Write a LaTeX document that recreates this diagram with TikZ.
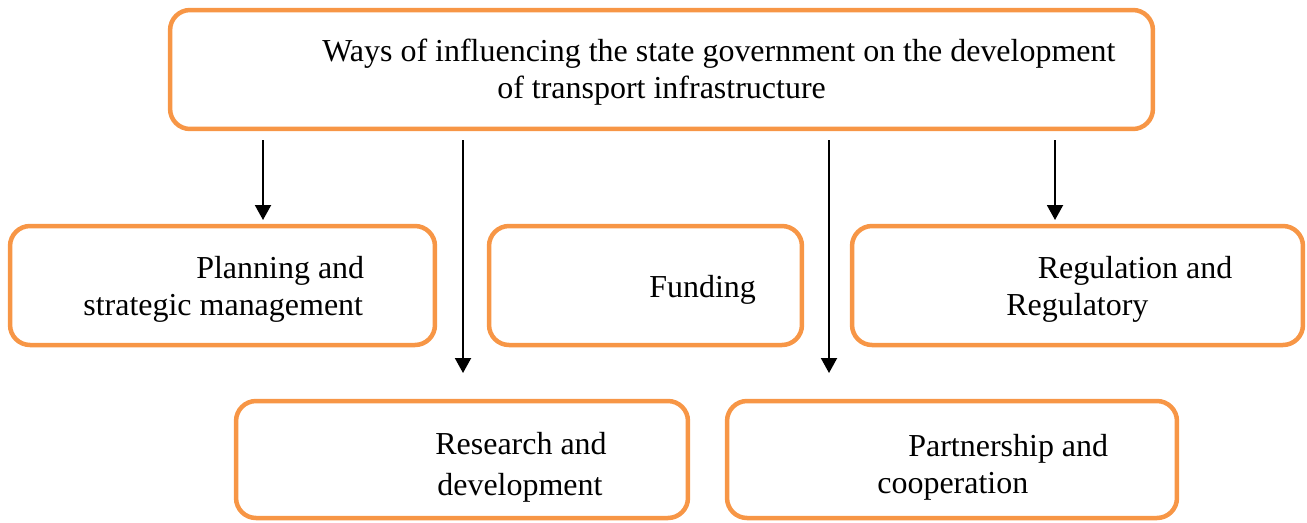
\documentclass[tikz,border=0pt]{standalone}
\usepackage{fontspec}
\setmainfont{Liberation Serif}
\usepackage{tikz}
\usetikzlibrary{arrows.meta}
\definecolor{boxorange}{RGB}{247,150,70}

\begin{document}
\begin{tikzpicture}[x=0.02cm, y=-0.02cm]
        \tikzstyle{waybox} = [rectangle, rounded corners=0.4cm, minimum height=2.38cm, draw=boxorange, line width=0.09cm]
        \tikzstyle{waytext} = [anchor=base west, inner sep=0pt, align=left, font=\fontsize{18.2}{21}\selectfont]
        \tikzstyle{arrow} = [line width=0.04cm, -{Triangle[width=0.32cm, length=0.3cm]}]

        \useasboundingbox (0,0) rectangle (1307,522);

        % Boxes
        \node (top) [waybox, minimum width=19.66cm] at (661.5,69.5) {};
        \node (plan) [waybox, minimum width=8.5cm] at (222.5,285.5) {};
        \node (fund) [waybox, minimum width=6.26cm] at (645.5,285.5) {};
        \node (regul) [waybox, minimum width=9.02cm] at (1077.5,285.5) {};
        \node (research) [waybox, minimum width=9.04cm, minimum height=2.34cm] at (462,459.5) {};
        \node (partner) [waybox, minimum width=9cm, minimum height=2.34cm] at (952,459.5) {};

        % Texts (placed at the baseline of the last line)
        \node (top_text) [waytext] at (322,98) {Ways of influencing the state government on the development\\\hspace*{3.5cm}of transport infrastructure};
        \node (plan_text) [waytext] at (83,315) {\hspace*{2.26cm}Planning and\\strategic management};
        \node (fund_text) [waytext] at (649,297) {Funding};
        \node (regul_text) [waytext] at (1006,315) {\hspace*{0.63cm}Regulation and\\Regulatory};
        \node (research_text) [waytext, font=\fontsize{18.2}{22.8}\selectfont] at (435,495) {Research and\\\hspace*{0.04cm}development};
        \node (partner_text) [waytext] at (877,493) {\hspace*{0.62cm}Partnership and\\cooperation};

        % Arrow ends
        \coordinate (tip_plan) at (263,220);
        \coordinate (tip_research) at (463,373);
        \coordinate (tip_partner) at (829,373);
        \coordinate (tip_regul) at (1055,220);

        % Arrows
        \draw [arrow, shorten <=0.18cm] (top.south -| tip_plan) -- (tip_plan);
        \draw [arrow, shorten <=0.18cm] (top.south -| tip_research) -- (tip_research);
        \draw [arrow, shorten <=0.18cm] (top.south -| tip_partner) -- (tip_partner);
        \draw [arrow, shorten <=0.18cm] (top.south -| tip_regul) -- (tip_regul);
    \end{tikzpicture}
\end{document}
